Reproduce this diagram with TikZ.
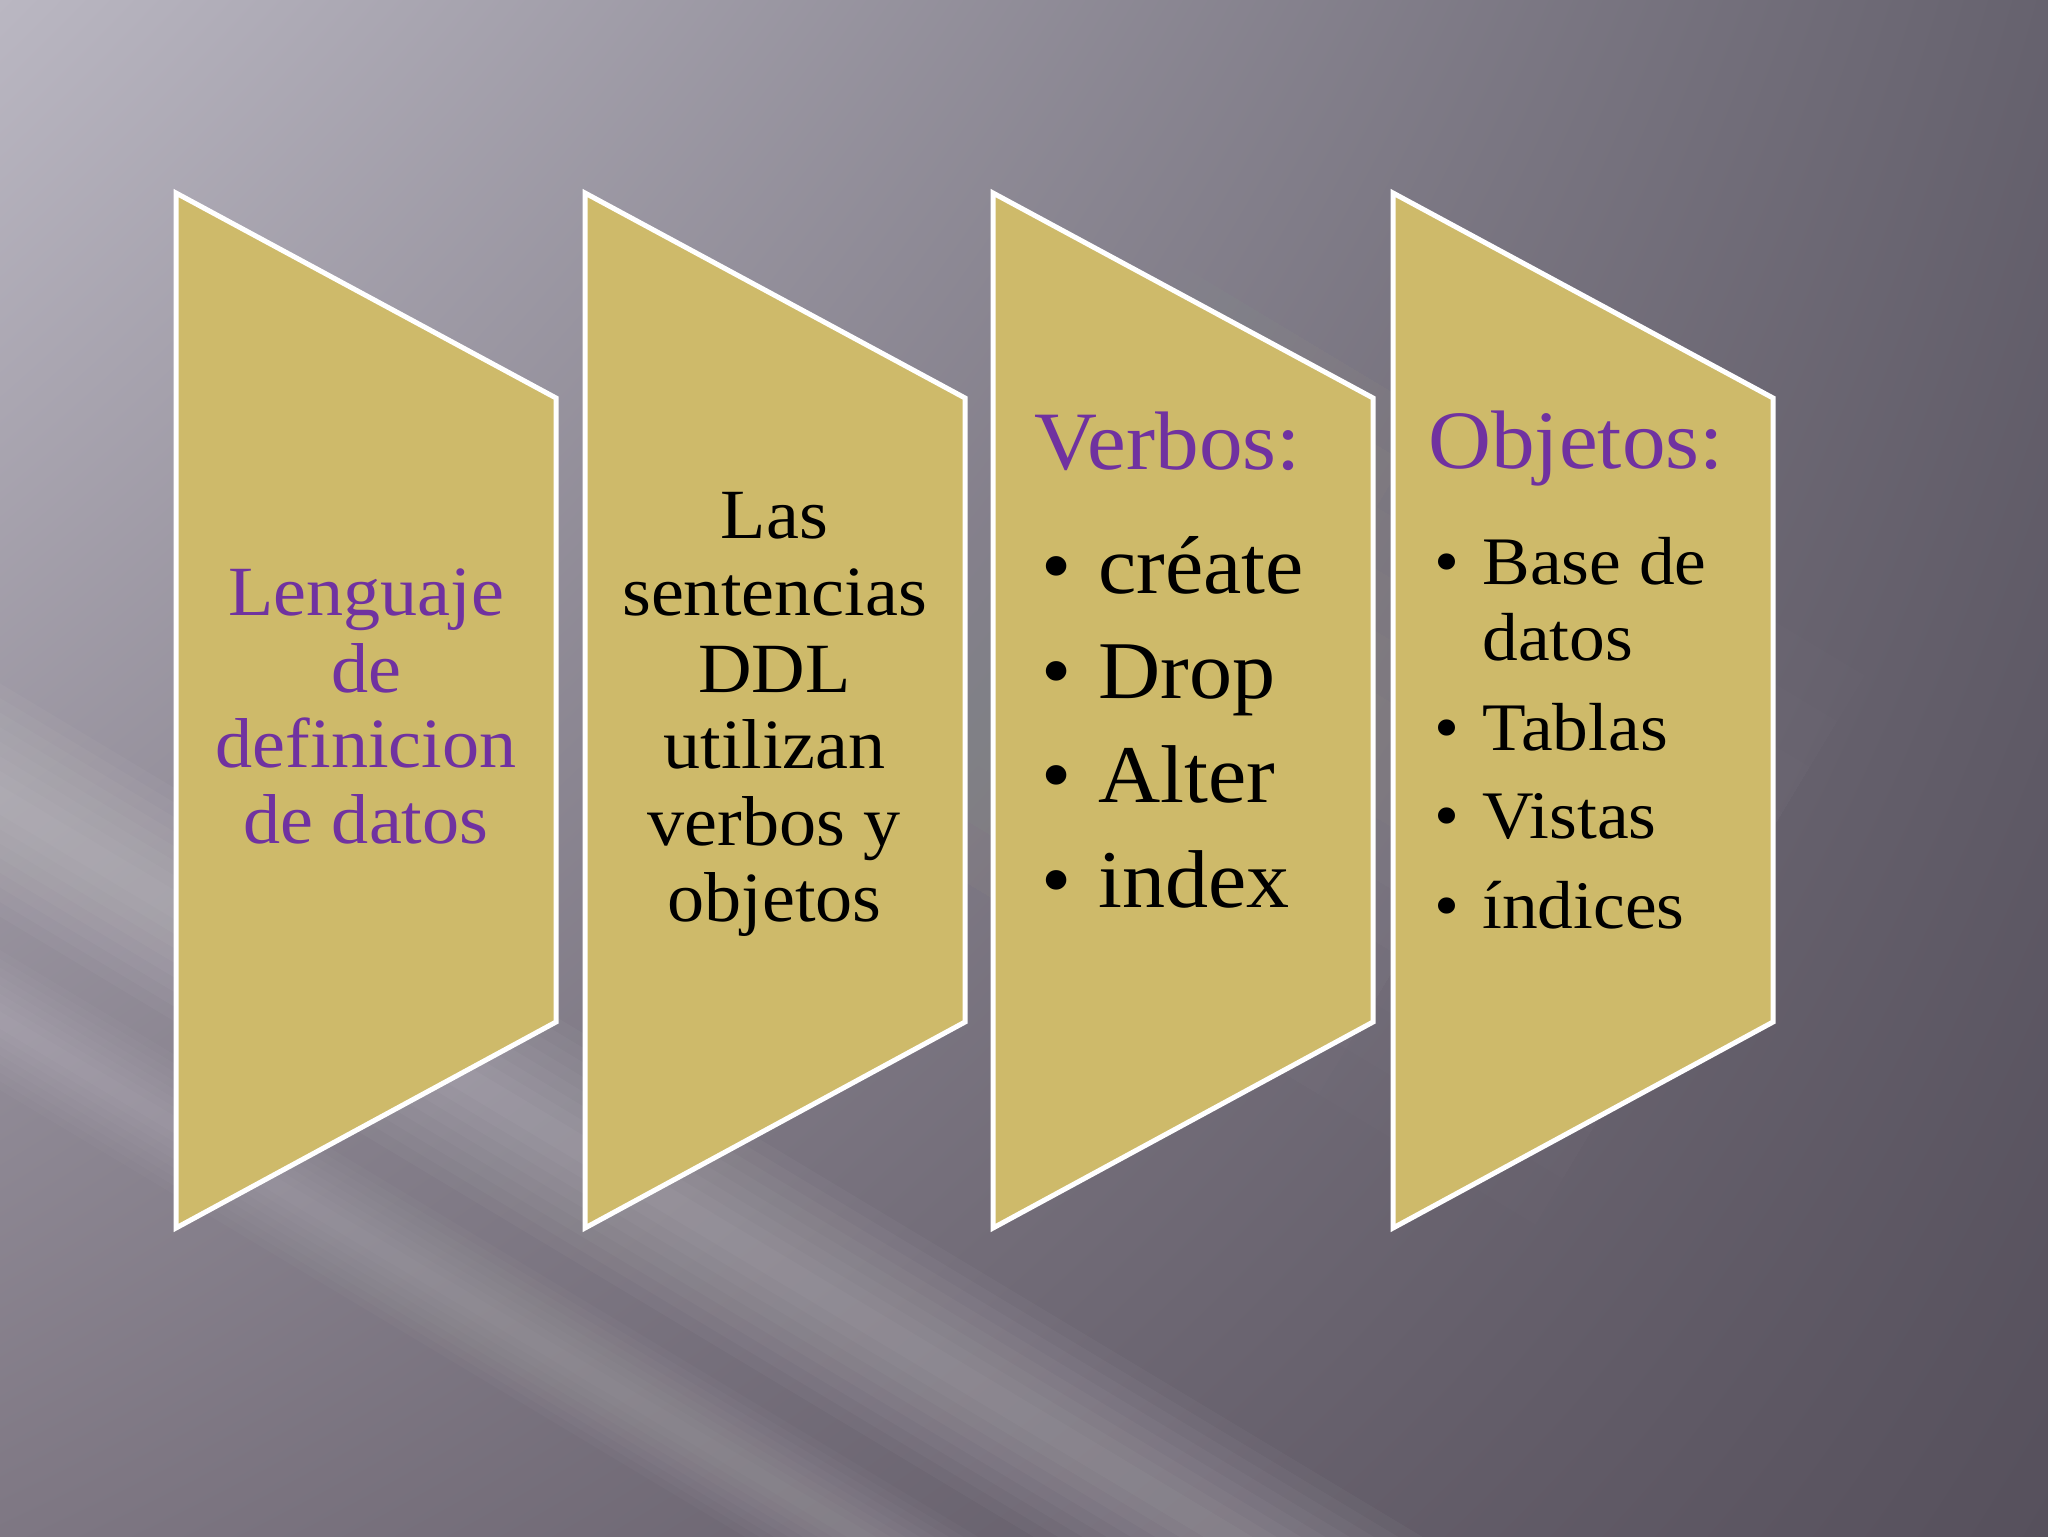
\documentclass[tikz,border=0pt]{standalone}
\usepackage{fontspec}
\setmainfont{Liberation Serif}[FakeStretch=1.05]
\usetikzlibrary{calc,shadings}
\definecolor{gold}{RGB}{206,186,106}
\definecolor{purp}{RGB}{112,50,160}
\definecolor{bgUL}{RGB}{186,183,194}
\definecolor{bgUR}{RGB}{102,98,110}
\definecolor{bgLL}{RGB}{126,119,131}
\definecolor{bgLR}{RGB}{86,80,92}
\newcommand\lightband[6]{%
  \foreach \k in {1,...,8}{%
    \pgfmathsetmacro\dd{#5*\k/8*0.5}%
    \fill[white,opacity=#6] ($(#1,#2)!\dd pt!90:(#3,#4)$) -- ($(#3,#4)!\dd pt!-90:(#1,#2)$) -- ($(#3,#4)!\dd pt!90:(#1,#2)$) -- ($(#1,#2)!\dd pt!-90:(#3,#4)$) -- cycle;
  }}
\newcommand\softband[6]{%
  \foreach \k in {1,...,6}{\foreach \j in {1,...,6}{%
    \pgfmathsetmacro\dd{#5*\k/6*0.5}%
    \pgfmathsetmacro\ff{0.35+0.65*\j/6}%
    \coordinate (sbA) at (#1,#2);
    \coordinate (sbB) at ($(#1,#2)!\ff!(#3,#4)$);
    \fill[white,opacity=#6] ($(sbA)!\dd pt!90:(sbB)$) -- ($(sbB)!\dd pt!-90:(sbA)$) -- ($(sbB)!\dd pt!90:(sbA)$) -- ($(sbA)!\dd pt!-90:(sbB)$) -- cycle;
  }}}
\tikzset{
  panel/.style={fill=gold, draw=white, line width=2.5pt, line join=miter},
  txt/.style={inner sep=0pt, anchor=base},
  txtl/.style={inner sep=0pt, anchor=base west},
  pA/.style={txt, text=purp, font=\fontsize{35.3}{38}\selectfont},
  bA/.style={txt, text=black, font=\fontsize{35.3}{38}\selectfont},
  hd/.style={txtl, text=purp, font=\fontsize{41.5}{44}\selectfont},
  itC/.style={txtl, text=black, font=\fontsize{41}{44}\selectfont},
  buC/.style={txt, text=black, font=\fontsize{41}{44}\selectfont},
  itD/.style={txtl, text=black, font=\fontsize{34}{38}\selectfont},
  buD/.style={txt, text=black, font=\fontsize{34}{38}\selectfont},
}
\begin{document}
\begin{tikzpicture}[x=0.5pt,y=-0.5pt]
\useasboundingbox (0,0) rectangle (2048,1536);
\shade[upper left=bgUL, upper right=bgUR, lower left=bgLL, lower right=bgLR] (0,0) rectangle (2048,1536);
\begin{scope}
\clip (0,0) rectangle (2048,1536);
\softband{-300}{-250}{1700}{950}{320}{0.009}
\lightband{-300}{620}{1700}{1820}{100}{0.03}
\lightband{-300}{840}{1700}{2040}{60}{0.025}
\end{scope}
% panels
\foreach \L in {176,585,993,1393}{
  \draw[panel] (\L,193) -- (\L+380,398) -- (\L+380,1022) -- (\L,1228) -- cycle;
}
% panel 1
\node[pA] (a1) at (366,615) {Lenguaje};
\node[pA] (a2) at (366,692) {de};
\node[pA] (a3) at (366,767) {definicion};
\node[pA] (a4) at (366,843) {de datos};
% panel 2
\node[bA] (b1) at (774.5,538) {Las};
\node[bA] (b2) at (774.5,615) {sentencias};
\node[bA] (b3) at (774.5,692) {DDL};
\node[bA] (b4) at (774.5,768) {utilizan};
\node[bA] (b5) at (774.5,845) {verbos y};
\node[bA] (b6) at (774.5,921) {objetos};
% panel 3
\node[hd] (c0) at (1034,469) {Verbos:};
\node[buC] (cb1) at (1057,593) {•};
\node[itC] (c1) at (1098,593) {créate};
\node[buC] (cb2) at (1057,698) {•};
\node[itC] (c2) at (1098,698) {Drop};
\node[buC] (cb3) at (1057,802) {•};
\node[itC] (c3) at (1098,802) {Alter};
\node[buC] (cb4) at (1057,907) {•};
\node[itC] (c4) at (1098,907) {index};
% panel 4
\node[hd] (d0) at (1428,468) {Objetos:};
\node[buD] (db1) at (1447,584) {•};
\node[itD] (d1) at (1482,584) {Base de};
\node[itD] (d1b) at (1482,660) {datos};
\node[buD] (db2) at (1447,750) {•};
\node[itD] (d2) at (1482,750) {Tablas};
\node[buD] (db3) at (1447,838) {•};
\node[itD] (d3) at (1482,838) {Vistas};
\node[buD] (db4) at (1447,928) {•};
\node[itD] (d4) at (1482,928) {índices};
\end{tikzpicture}
\end{document}
